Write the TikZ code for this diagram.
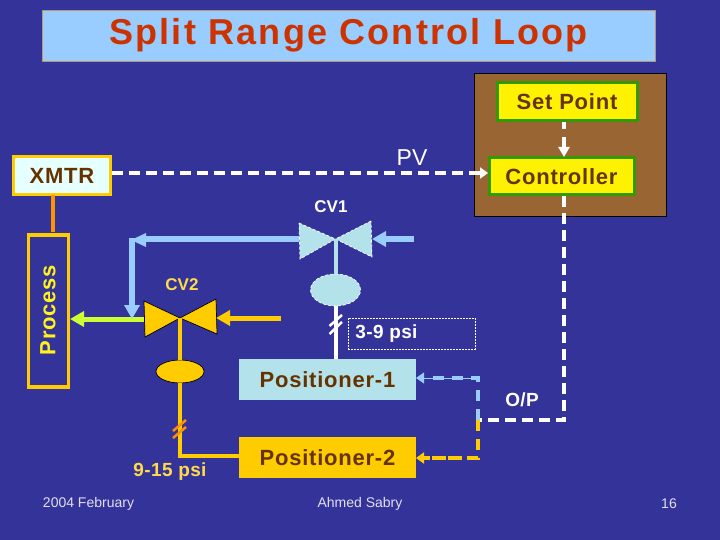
\documentclass[tikz,border=0pt]{standalone}
\usepackage{fontspec}
\setmainfont{Liberation Sans}
\usepackage{tikz}
\usetikzlibrary{arrows.meta}
\usetikzlibrary{shapes.geometric}
\definecolor{slidebg}{HTML}{333399}
\definecolor{titlefill}{HTML}{99CCFF}
\definecolor{titletext}{HTML}{CC3300}
\definecolor{boxbrown}{HTML}{996633}
\definecolor{darktext}{HTML}{663300}
\definecolor{boxgreen}{HTML}{339900}
\definecolor{amber}{HTML}{FFCC00}
\definecolor{wirelt}{HTML}{99CCFF}
\definecolor{icefill}{HTML}{B4E2EA}
\definecolor{lime}{HTML}{CCFF33}
\definecolor{xmtrfill}{HTML}{E6FFFF}
\newcommand{\boxfont}{\fontsize{22}{25}\selectfont\bfseries\addfontfeatures{LetterSpace=3.5}}
\newcommand{\lblfont}{\fontsize{19}{22}\selectfont\bfseries\addfontfeatures{LetterSpace=2}}
\tikzset{
	tipsmall/.style={-{Triangle[length=8pt,width=11pt]}},
	tipbig/.style={-{Triangle[length=14pt,width=15pt]}},
	sigline/.style={line width=4pt,dash pattern=on 11pt off 6pt},
	ctrlbox/.style={draw=boxgreen,line width=3pt,fill=yellow,text=darktext,font=\boxfont,inner sep=0pt},
	lbl/.style={inner sep=0pt,font=\lblfont},
	foot/.style={inner sep=0pt,text=white!85!slidebg,font=\fontsize{14}{16}\selectfont},
}
\begin{document}
\begin{tikzpicture}[x=1pt,y=-1pt]
	\useasboundingbox (0,0) rectangle (720,540);
	\fill[slidebg] (0,0) rectangle (720,540);
	% title and controller panel
	\node[draw=boxbrown!70!white,line width=0.8pt,fill=titlefill,text=titletext,minimum width=613pt,minimum height=51pt,inner sep=0pt,font=\fontsize{36}{40}\selectfont\bfseries\addfontfeatures{LetterSpace=6.2}] (title) at (348.5,35.5) {\raisebox{-2.5pt}{Split Range Control Loop}};
	\node[draw=black,line width=0.8pt,fill=boxbrown,minimum width=192pt,minimum height=143pt,inner sep=0pt] (panel) at (570,144.5) {};
	\node[ctrlbox,minimum width=140pt,minimum height=38pt] (setpoint) at (567,102) {Set Point};
	\node[ctrlbox,minimum width=145pt,minimum height=37pt] (controller) at (561.5,176.5) {Controller};
	\node[draw=amber,line width=3pt,fill=xmtrfill,text=darktext,minimum width=97pt,minimum height=38pt,inner sep=0pt,font=\boxfont] (xmtr) at (62,175.5) {XMTR};
	\node[draw=amber,line width=3.5pt,minimum width=40pt,minimum height=152pt,inner sep=0pt] (process) at (48.5,311) {};
	\node[rotate=90,text=yellow!90!white,inner sep=0pt,font=\boxfont] (processtext) at (48,310) {Process};
	\node[fill=icefill,text=darktext,minimum width=177pt,minimum height=41pt,inner sep=0pt,font=\boxfont] (pos1) at (327.5,379.5) {Positioner-1};
	\node[fill=amber,text=darktext,minimum width=177pt,minimum height=41pt,inner sep=0pt,font=\boxfont] (pos2) at (327.5,457.5) {Positioner-2};
	\node[draw=white,dashed,dash pattern=on 2pt off 1pt,line width=0.6pt,minimum width=127pt,minimum height=31pt,inner sep=0pt] (psibox) at (411.5,333.5) {};
	% valve 1
	\coordinate (cv1c) at (335.5,239);
	\fill[icefill] (299,223)--(cv1c)--(300,259)--cycle;
	\fill[icefill] (371,221)--(cv1c)--(372,257)--cycle;
	\draw[white,densely dashed,line width=0.7pt] (299,223)--(cv1c)--(300,259)--cycle (371,221)--(cv1c)--(372,257)--cycle;
	\node[ellipse,fill=icefill,draw=white,densely dashed,line width=0.7pt,minimum width=50pt,minimum height=32pt,inner sep=0pt] (cv1act) at (335.5,290) {};
	% valve 2
	\coordinate (cv2c) at (180,318);
	\draw[fill=amber,line width=0.7pt] (144,301)--(cv2c)--(145,337)--cycle;
	\draw[fill=amber,line width=0.7pt] (216,299)--(cv2c)--(217,334)--cycle;
	\node[ellipse,fill=amber,draw=black,line width=0.7pt,minimum width=48pt,minimum height=23pt,inner sep=0pt] (cv2act) at (180,371.5) {};
	% stems
	\draw[amber,line width=4pt] (cv2c)--(cv2act);
	\draw[icefill,line width=4pt] (cv1c)--(cv1act);
	\draw[white,line width=4pt] (cv1act)--(335.5,359);
	\draw[white,line width=2.5pt] (329.5,326)--(342,315) (329.5,334)--(342,322);
	\coordinate (pos2in) at (239,456);
	\draw[amber,line width=4pt] (cv2act)--(180,456)--(pos2in);
	\draw[orange!80!amber,line width=2.5pt] (173,431)--(186,420) (173,438)--(186,427);
	% process lines
	\draw[orange!75!amber,line width=3.5pt] (53,195)--(53,232);
	\coordinate (pipein) at (414,239);
	\draw[tipbig,wirelt,line width=6pt] (pipein)--(372,239);
	\draw[tipbig,lime,line width=5pt] (144,319)--(70,319);
	\draw[wirelt,line width=6pt] (299,239)--(145,239);
	\fill[wirelt] (131,240)--(146,233)--(146,247)--cycle;
	\draw[tipbig,wirelt,line width=6pt] (132,238)--(132,319);
	\coordinate (ambin) at (281,318);
	\draw[amber,line width=5pt,tipbig] (ambin)--(216,318);
	% signal lines
	\coordinate (pvin) at (488,173);
	\draw[sigline,white,tipsmall] (xmtr.east|-pvin)--(pvin);
	\coordinate (setout) at (564,122);
	\coordinate (ctrlin) at (564,157);
	\draw[white,line width=4.5pt,dash pattern=on 7pt off 8pt on 30pt off 0pt,-{Triangle[length=10pt,width=11pt]}] (setout)--(ctrlin);
	\coordinate (ctrlout) at (564,196);
	\coordinate (split) at (478,420);
	\coordinate (pos1in) at (416,378);
	\coordinate (pos2dash) at (416,458);
	\draw[sigline,white] (ctrlout)--(564,420)--(split);
	\draw[wirelt,line width=4pt,dash pattern=on 11pt off 8pt] (split)--(478,378)--(432,378);
	\draw[wirelt,line width=1pt,tipsmall] (478,378)--(pos1in);
	\draw[amber,line width=4pt,dash pattern=on 11pt off 8pt] (split)--(478,458)--(432,458);
	\draw[amber,line width=3.5pt,dash pattern=on 9pt off 7pt,tipsmall] (478,458)--(pos2dash);
	% labels
	\node[lbl,text=white,font=\fontsize{23}{26}\selectfont] (pvlabel) at (412,158) {PV};
	\node[lbl,text=white,font=\fontsize{17}{20}\selectfont\bfseries] (cv1label) at (331,207) {CV1};
	\node[lbl,text=amber!70!white,font=\fontsize{17}{20}\selectfont\bfseries] (cv2label) at (182,285) {CV2};
	\node[lbl,text=white] (psilabel) at (386.5,334) {3-9 psi};
	\node[lbl,text=white] (oplabel) at (522,400) {O/P};
	\node[lbl,text=amber!70!white] (psi2label) at (170,472) {9-15 psi};
	\node[foot] (datelabel) at (88.5,503.5) {2004 February};
	\node[foot] (namelabel) at (360,503.5) {Ahmed Sabry};
	\node[foot] (pagelabel) at (669,503.5) {16};
\end{tikzpicture}
\end{document}
